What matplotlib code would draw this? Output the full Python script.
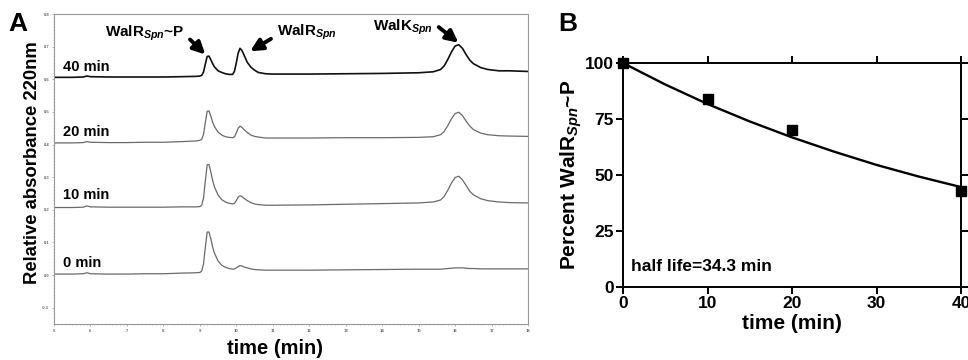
import matplotlib
matplotlib.use("Agg")
import matplotlib.pyplot as plt
from matplotlib.ticker import MultipleLocator

plt.rcParams['font.family'] = ['Liberation Sans', 'DejaVu Sans']
plt.rcParams['font.weight'] = 'bold'
plt.rcParams['mathtext.fontset'] = 'custom'
plt.rcParams['mathtext.rm'] = 'Liberation Sans:bold'
plt.rcParams['mathtext.it'] = 'Liberation Sans:italic:bold'

# panel A: HPLC traces
time_min = [5.0, 5.5, 5.8, 5.9, 6.0, 6.5, 7.0, 7.5, 8.0, 8.5, 8.9, 9.0, 9.05, 9.1,
            9.15, 9.2, 9.25, 9.3, 9.35, 9.4, 9.5, 9.6, 9.7, 9.8, 9.9, 9.95, 10.0,
            10.05, 10.1, 10.15, 10.2, 10.3, 10.4, 10.5, 10.6, 10.8, 11.0, 12.0,
            13.0, 14.0, 15.0, 15.4, 15.6, 15.7, 15.8, 15.9, 16.0, 16.1, 16.2,
            16.3, 16.4, 16.5, 16.7, 16.9, 17.2, 17.5, 18.0]

abs_0min = [0.003, 0.003, 0.004, 0.007, 0.004, 0.003, 0.003, 0.004, 0.004, 0.006,
            0.007, 0.008, 0.012, 0.034, 0.085, 0.132, 0.132, 0.111, 0.086, 0.067,
            0.043, 0.030, 0.024, 0.020, 0.018, 0.019, 0.022, 0.026, 0.029, 0.028,
            0.025, 0.022, 0.019, 0.017, 0.016, 0.015, 0.015, 0.015, 0.016, 0.017,
            0.018, 0.018, 0.018, 0.019, 0.020, 0.021, 0.022, 0.022, 0.022, 0.021,
            0.020, 0.020, 0.019, 0.019, 0.019, 0.019, 0.019]

abs_10min = [0.207, 0.207, 0.208, 0.212, 0.209, 0.208, 0.208, 0.208, 0.208, 0.209,
             0.209, 0.210, 0.214, 0.236, 0.289, 0.338, 0.339, 0.316, 0.290, 0.270,
             0.245, 0.231, 0.224, 0.220, 0.218, 0.220, 0.228, 0.239, 0.243, 0.241,
             0.236, 0.228, 0.222, 0.218, 0.216, 0.214, 0.214, 0.215, 0.217, 0.219,
             0.221, 0.224, 0.230, 0.241, 0.260, 0.282, 0.299, 0.303, 0.292, 0.275,
             0.257, 0.246, 0.234, 0.228, 0.224, 0.222, 0.221]

abs_20min = [0.405, 0.405, 0.406, 0.409, 0.407, 0.406, 0.406, 0.407, 0.407, 0.409,
             0.411, 0.413, 0.416, 0.431, 0.468, 0.502, 0.503, 0.487, 0.469, 0.455,
             0.438, 0.429, 0.424, 0.422, 0.421, 0.424, 0.436, 0.450, 0.456, 0.453,
             0.447, 0.437, 0.429, 0.425, 0.423, 0.420, 0.420, 0.420, 0.421, 0.421,
             0.422, 0.424, 0.430, 0.440, 0.458, 0.479, 0.495, 0.499, 0.489, 0.472,
             0.457, 0.446, 0.435, 0.430, 0.427, 0.426, 0.425]

abs_40min = [0.606, 0.606, 0.607, 0.610, 0.608, 0.607, 0.607, 0.607, 0.607, 0.608,
             0.609, 0.610, 0.612, 0.622, 0.647, 0.670, 0.671, 0.660, 0.648, 0.638,
             0.626, 0.621, 0.617, 0.615, 0.615, 0.625, 0.651, 0.680, 0.695, 0.689,
             0.677, 0.652, 0.637, 0.628, 0.621, 0.617, 0.616, 0.616, 0.617, 0.618,
             0.620, 0.623, 0.630, 0.641, 0.661, 0.684, 0.702, 0.706, 0.695, 0.676,
             0.659, 0.648, 0.636, 0.630, 0.626, 0.626, 0.624]

trace_labels = ['0 min', '10 min', '20 min', '40 min']

# panel B: dephosphorylation time course
sample_time = [0, 10, 20, 40]
percent_p = [100, 84, 70, 43]
fit_time = [0, 5, 10, 15, 20, 25, 30, 35, 40]
fit_percent = [100, 90.4, 81.7, 73.9, 66.8, 60.4, 54.5, 49.3, 44.6]

fig = plt.figure(figsize=(9.68, 3.6), dpi=100)

# ---------------- panel A ----------------
axA = fig.add_axes([0.0558, 0.1, 0.4897, 0.861])
axA.plot(time_min, abs_0min, color='#6a6a6a', lw=0.9)
axA.plot(time_min, abs_10min, color='#6a6a6a', lw=0.9)
axA.plot(time_min, abs_20min, color='#6a6a6a', lw=0.9)
axA.plot(time_min, abs_40min, color='#111111', lw=1.2)
axA.set_xlim(5, 18)
axA.set_ylim(-0.15, 0.8)
axA.xaxis.set_major_locator(MultipleLocator(1))
axA.yaxis.set_major_locator(MultipleLocator(0.1))
axA.xaxis.set_minor_locator(MultipleLocator(0.1))
axA.yaxis.set_minor_locator(MultipleLocator(0.01))
axA.yaxis.set_major_formatter(plt.FuncFormatter(lambda v, p: '%.1f' % v))
axA.tick_params(which='major', length=1.5, width=0.5, labelsize=3, pad=2,
                colors='#999999', labelcolor='#666666')
axA.tick_params(which='minor', length=0.8, width=0.4, colors='#aaaaaa')
for s in axA.spines.values():
    s.set_color('#999999')
    s.set_linewidth(0.8)

label_y = [0.037, 0.245, 0.438, 0.638]
for lab, ly in zip(trace_labels, label_y):
    axA.text(5.25, ly, lab, fontsize=10.5, fontweight='bold', va='center', ha='left')

arrow = dict(arrowstyle='-|>', lw=2.8, color='k', mutation_scale=18, shrinkA=0, shrinkB=0)
axA.text(6.4, 0.742, r'WalR$_{\mathit{Spn}}$~P', fontsize=11, va='center', ha='left')
axA.annotate('', xy=(9.15, 0.676), xytext=(8.73, 0.722), arrowprops=arrow)
axA.text(11.12, 0.745, r'WalR$_{\mathit{Spn}}$', fontsize=11, va='center', ha='left')
axA.annotate('', xy=(10.38, 0.686), xytext=(10.95, 0.724), arrowprops=arrow)
axA.text(13.75, 0.76, r'WalK$_{\mathit{Spn}}$', fontsize=11, va='center', ha='left')
axA.annotate('', xy=(16.09, 0.712), xytext=(15.55, 0.76), arrowprops=arrow)

fig.text(33 / 968, 1 - 163 / 360, 'Relative absorbance 220nm', rotation=90,
         fontsize=13.3, ha='center', va='center')
fig.text(275 / 968, 1 - 349 / 360, 'time (min)', fontsize=14.5, ha='center', va='center')
fig.text(18 / 968, 1 - 24 / 360, 'A', fontsize=19, ha='center', va='center')

# ---------------- panel B ----------------
axB = fig.add_axes([0.6436, 0.2028, 0.3492, 0.6222])
axB.plot(fit_time, fit_percent, color='k', lw=1.7, clip_on=False)
axB.plot(sample_time, percent_p, 's', color='k', markersize=7.5, clip_on=False, zorder=5)
axB.set_xlim(0, 40)
axB.set_ylim(0, 100)
axB.set_xticks([0, 10, 20, 30, 40])
axB.set_yticks([0, 25, 50, 75, 100])
axB.tick_params(direction='out', length=5, width=1.4, labelsize=12.5, pad=1.5,
                top=True, right=True)
for t in axB.get_xticklabels() + axB.get_yticklabels():
    t.set_fontweight('bold')
for s in axB.spines.values():
    s.set_linewidth(1.4)
axB.text(0.9, 9, 'half life=34.3 min', fontsize=12.5, ha='left', va='center')
axB.set_xlabel('time (min)', fontsize=15, fontweight='bold', labelpad=2)
axB.set_ylabel(r'Percent WalR$_{\mathit{Spn}}$~P', fontsize=15, fontweight='bold', labelpad=1)
fig.text(568 / 968, 1 - 24 / 360, 'B', fontsize=19, ha='center', va='center')

fig.savefig('out.png', dpi=100)
